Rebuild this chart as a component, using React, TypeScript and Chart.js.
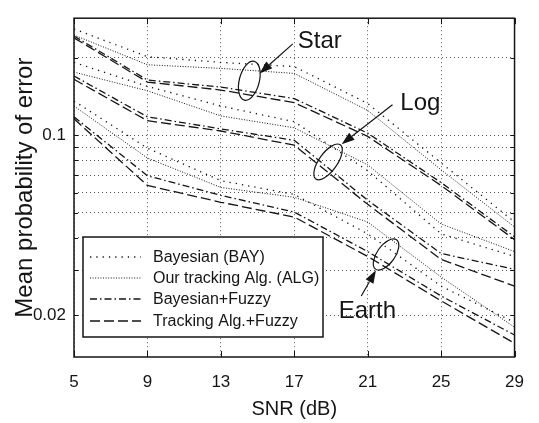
import React, { useEffect, useRef } from 'react';
import { Chart, registerables } from 'chart.js';

Chart.register(...registerables);

// ---------- data ----------
const snr = [5, 9, 13, 17, 21, 25, 29];
const xTickValues = [5, 9, 13, 17, 21, 25, 29];
const yTickValues = [0.02, 0.03, 0.04, 0.05, 0.06, 0.07, 0.08, 0.09, 0.1, 0.2];
const yTickLabels = ['0.02', '', '', '', '', '', '', '', '0.1', ''];

const seriesNames = ['Bayesian (BAY)', 'Our tracking Alg. (ALG)', 'Bayesian+Fuzzy', 'Tracking Alg.+Fuzzy'];
const groupNames = ['Star', 'Log', 'Earth'];

// Star
const starBay = [0.259, 0.202, 0.192, 0.185, 0.133, 0.0782, 0.0461];
const starAlg = [0.245, 0.188, 0.182, 0.174, 0.125, 0.0735, 0.0441];
const starBayFuzzy = [0.243, 0.164, 0.154, 0.139, 0.102, 0.0656, 0.0404];
const starAlgFuzzy = [0.239, 0.161, 0.15, 0.134, 0.0991, 0.0639, 0.0394];
// Log
const logBay = [0.192, 0.155, 0.13, 0.113, 0.0729, 0.0415, 0.0339];
const logAlg = [0.176, 0.149, 0.119, 0.107, 0.0768, 0.0453, 0.0354];
const logBayFuzzy = [0.17, 0.118, 0.106, 0.0957, 0.056, 0.0348, 0.0302];
const logAlgFuzzy = [0.165, 0.114, 0.104, 0.0916, 0.054, 0.033, 0.026];
// Earth
const earthBay = [0.136, 0.0892, 0.0667, 0.059, 0.0415, 0.026, 0.0188];
const earthAlg = [0.13, 0.0817, 0.0628, 0.0575, 0.0461, 0.0282, 0.018];
const earthBayFuzzy = [0.118, 0.0697, 0.0585, 0.0504, 0.0354, 0.0238, 0.0168];
const earthAlgFuzzy = [0.116, 0.0639, 0.055, 0.0482, 0.0339, 0.0228, 0.0156];

const groups = [
  [starBay, starAlg, starBayFuzzy, starAlgFuzzy],
  [logBay, logAlg, logBayFuzzy, logAlgFuzzy],
  [earthBay, earthAlg, earthBayFuzzy, earthAlgFuzzy],
];

// annotation anchors in data space [snr, probability]
const ellipseCenters = [[14.55, 0.163], [18.84, 0.0789], [22.0, 0.0345]];
const labelAnchors = [[17.19, 0.2188], [22.78, 0.125], [19.42, 0.01948]];
const arrowFrom = [[16.92, 0.2266], [22.35, 0.1314], [20.65, 0.0238]];
const arrowTo = [[15.11, 0.174], [19.58, 0.0924], [21.45, 0.02997]];

// ---------- styles ----------
const FONT = "'Liberation Sans', Arial, Helvetica, sans-serif";
const INK = '#151515';
const dashStyles = [[1.3, 5], [1, 1.6], [7, 3, 1.5, 3], [10, 4]];
const lineWidths = [1.3, 1, 1.3, 1.3];
const ellipseShapes = [
  { rx: 10, ry: 20, rot: 0.25 },
  { rx: 9, ry: 21, rot: 0.62 },
  { rx: 9, ry: 18, rot: 0.62 },
];

const overlayPlugin = {
  id: 'overlay',
  afterDatasetsDraw(chart: any) {
    const { ctx, chartArea: ca, scales } = chart;
    const xs = scales.x;
    const ys = scales.y;
    const px = (v: number) => xs.getPixelForValue(v);
    const py = (v: number) => ys.getPixelForValue(v);
    const seg = (x1: number, y1: number, x2: number, y2: number) => {
      ctx.beginPath();
      ctx.moveTo(x1, y1);
      ctx.lineTo(x2, y2);
      ctx.stroke();
    };
    ctx.save();
    ctx.strokeStyle = INK;
    ctx.fillStyle = INK;
    ctx.setLineDash([]);

    // inward tick marks
    ctx.lineWidth = 1;
    xTickValues.forEach((v) => {
      const x = Math.round(px(v)) + 0.5;
      seg(x, ca.bottom, x, ca.bottom - 6);
      seg(x, ca.top, x, ca.top + 6);
    });
    yTickValues.forEach((v) => {
      const y = Math.round(py(v)) + 0.5;
      seg(ca.left, y, ca.left + 4, y);
      seg(ca.right, y, ca.right - 4, y);
    });

    // frame
    ctx.lineWidth = 1.5;
    ctx.strokeRect(ca.left, ca.top, ca.right - ca.left, ca.bottom - ca.top);

    // ellipses, arrows and labels
    ctx.lineWidth = 1.2;
    groupNames.forEach((name, i) => {
      const e = ellipseShapes[i];
      ctx.beginPath();
      ctx.ellipse(px(ellipseCenters[i][0]), py(ellipseCenters[i][1]), e.rx, e.ry, e.rot, 0, Math.PI * 2);
      ctx.stroke();

      const x1 = px(arrowFrom[i][0]);
      const y1 = py(arrowFrom[i][1]);
      const x2 = px(arrowTo[i][0]);
      const y2 = py(arrowTo[i][1]);
      const ang = Math.atan2(y2 - y1, x2 - x1);
      const hl = 13;
      const hw = 4.5;
      const bx = x2 - hl * Math.cos(ang);
      const by = y2 - hl * Math.sin(ang);
      seg(x1, y1, bx, by);
      ctx.beginPath();
      ctx.moveTo(x2, y2);
      ctx.lineTo(bx + hw * Math.sin(ang), by - hw * Math.cos(ang));
      ctx.lineTo(bx - hw * Math.sin(ang), by + hw * Math.cos(ang));
      ctx.closePath();
      ctx.fill();

      ctx.font = `24px ${FONT}`;
      ctx.textAlign = 'left';
      ctx.textBaseline = 'alphabetic';
      ctx.fillText(name, px(labelAnchors[i][0]), py(labelAnchors[i][1]));
    });

    // legend
    const lx = ca.left + 9;
    const ly = 237;
    const lw = 240;
    const lh = 100;
    ctx.fillStyle = '#ffffff';
    ctx.fillRect(lx, ly, lw, lh);
    ctx.lineWidth = 1.5;
    ctx.strokeStyle = INK;
    ctx.strokeRect(lx, ly, lw, lh);
    const rowOffsets = [20, 41, 62, 84];
    ctx.font = `16px ${FONT}`;
    ctx.textBaseline = 'middle';
    ctx.textAlign = 'left';
    seriesNames.forEach((name, k) => {
      const ry = ly + rowOffsets[k];
      ctx.save();
      ctx.lineWidth = lineWidths[k];
      ctx.setLineDash(dashStyles[k]);
      seg(lx + 7, ry, lx + 58, ry);
      ctx.restore();
      ctx.fillStyle = INK;
      ctx.fillText(name, lx + 70, ry + 1);
    });

    ctx.restore();
  },
};

export default function App() {
  const canvasRef = useRef<HTMLCanvasElement | null>(null);

  useEffect(() => {
    const canvas = canvasRef.current;
    if (!canvas) return;
    const datasets: any[] = [];
    groups.forEach((g, gi) => {
      g.forEach((arr, k) => {
        datasets.push({
          label: `${groupNames[gi]} - ${seriesNames[k]}`,
          data: snr.map((x, i) => ({ x, y: arr[i] })),
          borderColor: INK,
          borderWidth: lineWidths[k],
          borderDash: dashStyles[k],
          pointRadius: 0,
          fill: false,
          tension: 0,
        });
      });
    });

    const chart = new Chart(canvas, {
      type: 'line',
      data: { datasets },
      options: {
        animation: false,
        responsive: false,
        devicePixelRatio: 1,
        layout: { padding: { left: 0, top: 13, right: 14, bottom: 0 } },
        plugins: { legend: { display: false }, tooltip: { enabled: false } },
        scales: {
          x: {
            type: 'linear',
            min: 5,
            max: 29,
            afterFit: (s: any) => {
              s.height = 66;
            },
            afterBuildTicks: (s: any) => {
              s.ticks = xTickValues.map((v) => ({ value: v }));
            },
            ticks: {
              color: INK,
              font: { family: FONT, size: 17 },
              padding: 15,
              maxRotation: 0,
              callback: (v: any) => String(v),
            },
            grid: { color: '#555', lineWidth: 1, drawTicks: false },
            border: { display: false, dash: [1, 3] },
            title: {
              display: true,
              text: 'SNR (dB)',
              color: INK,
              font: { family: FONT, size: 20 },
              padding: { top: 0, bottom: 2 },
            },
          },
          y: {
            type: 'logarithmic',
            min: 0.0138,
            max: 0.285,
            afterFit: (s: any) => {
              s.width = 74;
            },
            afterBuildTicks: (s: any) => {
              s.ticks = yTickValues.map((v) => ({ value: v }));
            },
            ticks: {
              color: INK,
              font: { family: FONT, size: 17 },
              padding: 8,
              autoSkip: false,
              callback: (v: any) => {
                const i = yTickValues.findIndex((t) => Math.abs(t - v) < 1e-9);
                return i >= 0 ? yTickLabels[i] : '';
              },
            },
            grid: { color: '#555', lineWidth: 1, drawTicks: false },
            border: { display: false, dash: [1, 3] },
            title: {
              display: true,
              text: 'Mean probability of error',
              color: INK,
              font: { family: FONT, size: 24 },
              padding: { top: 11, bottom: 0 },
            },
          },
        },
      },
      plugins: [overlayPlugin],
    });
    return () => chart.destroy();
  }, []);

  return (
    <div style={{ position: 'absolute', left: 0, top: 0, width: 539, height: 423, background: '#fff' }}>
      <canvas ref={canvasRef} width={539} height={423} />
    </div>
  );
}
